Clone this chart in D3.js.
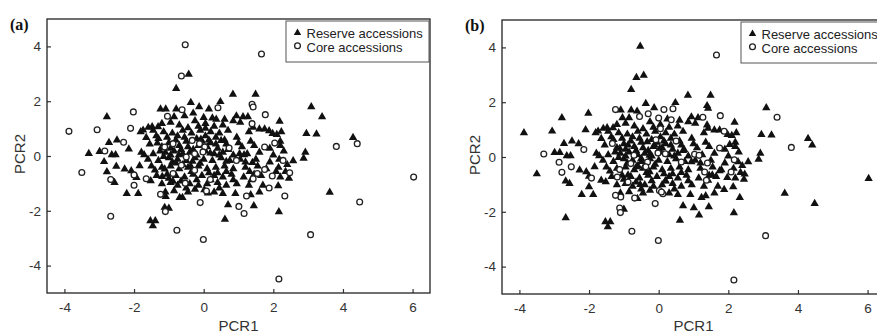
<!DOCTYPE html>
<html>
<head>
<meta charset="utf-8">
<script src="https://cdn.jsdelivr.net/npm/d3@7"></script>
<style>
  html, body { margin: 0; padding: 0; background: #fff; }
  svg { display: block; }
</style>
</head>
<body>
<svg id="chart" width="877" height="334"></svg>
<script>
// ---- Data (PCR1, PCR2) ----
// Accessions that are "reserve" (triangles) in both panels
const sharedReserve = [
  [-0.43,3.0],[-0.79,2.48],[-2.78,1.45],[-2.99,0.18],[-2.72,0.51],[-2.64,0.06],[-2.53,0.06],
  [-2.56,-0.95],[-2.49,0.60],[-2.21,-1.35],[-2.27,-0.46],[-2.08,-0.52],[-1.88,-1.35],[-1.81,0.90],
  [-1.74,0.96],[-1.79,0.15],[-1.71,0.06],[-1.84,-0.34],[-1.59,1.06],[-1.65,0.69],[-1.52,-0.89],
  [-1.53,-2.35],[-1.39,-2.35],[-1.46,-2.53],[-1.48,1.08],[-1.31,1.08],[-1.36,0.75],[-1.09,1.73],
  [-0.79,1.73],[-0.37,1.97],[-0.13,1.81],[0.48,2.0],[0.60,1.36],[0.84,2.27],[1.49,2.27],[0.94,1.48],
  [1.13,1.45],[1.42,1.06],[2.18,1.28],[1.98,0.84],[2.23,0.90],[3.09,1.81],[2.95,0.84],[3.24,0.82],
  [2.92,0.15],[2.87,-0.07],[2.57,-0.16],[4.29,0.69],[3.62,-1.31],[2.16,-2.02],[2.14,-1.07],
  [1.44,-1.80],[0.91,-1.35],[0.70,-1.76],[0.61,-2.29],[-1.00,-1.89],[-0.61,-1.50],
  [-1.2,1.2],[-0.95,1.25],[-0.7,1.15],[-0.25,1.3],[0.05,1.2],[0.3,1.1],[0.55,1.15],[0.85,1.3],[1.05,1.25],
  [-1.45,0.95],[-1.15,0.9],[-0.9,0.85],[-0.6,0.95],[-0.35,0.85],[-0.1,0.95],[0.2,0.9],[0.45,0.85],
  [0.7,0.95],[1.3,0.9],[1.6,1.0],[1.75,1.0],[2.1,0.8],
  [-1.3,0.65],[-1.05,0.7],[-0.8,0.6],[-0.55,0.7],[-0.2,0.65],[0.05,0.75],[0.35,0.7],[0.6,0.6],
  [0.95,0.7],[1.35,0.55],[2.2,0.55],
  [-1.55,0.45],[-1.2,0.35],[-0.95,0.3],[-0.7,0.4],[-0.45,0.35],[-0.15,0.4],[0.1,0.35],[0.4,0.3],
  [0.65,0.45],[1.1,0.35],[1.45,0.4],[1.9,0.3],[2.2,0.4],
  [-1.45,0.1],[-1.1,0.15],[-0.85,0.2],[-0.6,0.1],[-0.4,0.15],[-0.2,0.05],[0.05,0.2],[0.3,0.1],
  [0.55,0.15],[0.85,0.05],[1.25,0.1],[1.6,0.15],[2.0,0.05],[2.3,0.2],
  [-1.3,-0.15],[-1.0,-0.05],[-0.75,-0.1],[-0.5,-0.15],[-0.25,-0.05],[0.0,-0.1],[0.25,-0.15],
  [0.5,-0.05],[0.75,-0.15],[1.05,-0.1],[1.5,-0.1],[1.9,-0.2],[2.4,-0.3],
  [-1.5,-0.35],[-1.2,-0.4],[-0.95,-0.35],[-0.7,-0.45],[-0.45,-0.4],[-0.15,-0.35],[0.1,-0.45],
  [0.35,-0.4],[0.6,-0.35],[0.85,-0.45],[1.2,-0.4],[1.55,-0.35],[1.8,-0.45],[2.15,-0.4],[2.35,-0.55],
  [-1.35,-0.7],[-1.05,-0.65],[-0.8,-0.7],[-0.55,-0.75],[-0.3,-0.65],[-0.05,-0.7],[0.3,-0.7],
  [0.55,-0.75],[0.8,-0.65],[1.15,-0.75],[1.45,-0.65],[1.65,-0.7],[2.2,-0.75],[2.45,-0.8],
  [-1.2,-1.0],[-0.95,-0.95],[-0.75,-1.05],[-0.4,-1.0],[-0.15,-1.05],[0.1,-1.0],[0.4,-0.95],
  [0.65,-1.05],[0.95,-1.0],[1.3,-1.05],[1.7,-1.05],
  [-1.1,-1.3],[-0.85,-1.25],[-0.45,-1.3],[-0.25,-1.2],[0.3,-1.3],[0.55,-1.35],[1.35,-1.4],[1.6,-1.3],
  [-1.0,0.5],[-0.75,0.75],[-0.5,0.55],[-0.3,0.25],[-0.05,0.55],[0.2,0.5],[0.45,0.05],[-0.9,-0.2],
  [-0.6,-0.3],[-0.35,-0.55],[-0.1,-0.25],[0.15,-0.6],[0.4,-0.6],[0.65,-0.55],[-1.0,-0.8],[-0.65,-0.9],
  [-0.2,-0.85],[0.2,-0.85],[-1.15,0.0],[-0.95,0.05],[-0.65,0.25],[0.15,0.6],[0.35,0.45],[-0.45,1.05],
  [-0.15,1.1],[0.25,1.4],[-0.85,1.45],[-0.5,-1.15],[0.45,-1.15],[0.85,-0.85],[1.0,0.5],[1.2,-0.2],
  [0.7,0.25],[-1.4,-0.5],[-1.6,-0.1],[-1.25,0.2]
];
// Core in panel (a) only (reserve in panel b)
const coreAOnly = [
  [-0.53,4.06],[-0.64,2.92],[-2.02,1.61],[-3.87,0.90],[-3.06,0.96],[-2.10,1.01],[-2.30,0.50],
  [-2.84,0.18],[-3.50,-0.60],[-2.67,-0.86],[-2.67,-2.20],[-1.04,1.45],[-0.62,1.69],[4.41,0.45],
  [6.03,-0.77],[4.48,-1.68],[1.01,-1.84],[1.16,-2.10],[1.23,-1.46],[1.88,-1.17],[2.33,-1.46],
  [2.47,-0.61],[2.28,-0.16],[1.97,-0.73],[1.75,-0.49],[2.04,0.47],[1.39,1.89],[1.42,1.79],
  [1.39,1.18],[-0.33,0.57],[0.73,0.29],[0.94,-0.16],[0.19,-0.86],[-0.53,-0.99],[-1.65,-0.83],
  [-2.00,-1.07],[-2.00,-0.69],[-1.12,0.33],[-0.88,0.45],[1.54,-0.64],[1.42,-0.83],
  [-0.12,0.45],[0.03,0.33],[-0.50,-0.04],[-0.64,-0.34],[-0.88,-0.64],[-0.26,0.08],[-0.26,-0.52]
];
// Core in panel (b) only (reserve in panel a)
const coreBOnly = [
  [-3.30,0.11],[-2.86,-0.19],[-2.78,-0.56],[-2.51,-0.36],[-2.15,0.27],[-1.93,-0.77],[-1.24,1.73],
  [-0.55,1.48],[0.0,1.42],[0.15,1.73],[0.36,1.36],[1.27,1.45],[3.40,1.45],[-1.12,-1.86],
  [-0.69,-1.50],[-1.09,-1.46],[1.88,0.94],[1.03,0.10],[1.16,0.06],[1.40,-0.22],[1.32,-0.55],
  [1.37,-0.85],[2.08,-0.55],[2.17,-0.10],[0.65,-0.18],[0.50,0.58],[0.19,0.12],[-0.08,0.63],
  [-0.32,-0.18],[-0.37,-0.36],[-0.71,0.06],[-0.80,-0.24],[-1.12,-0.46],[-1.19,-0.73],
  [-0.88,-0.91],[-1.33,0.49],[0.02,-1.22],[0.12,-1.34],[-0.30,1.58],[0.05,1.03]
];
// Core in both panels
const coreBoth = [
  [1.66,3.72],[3.81,0.35],[3.07,-2.87],[2.16,-4.49],[-0.01,-3.05],[-0.77,-2.71],[-0.10,-1.70],
  [1.75,0.33],[1.77,1.51],[0.41,1.76],[0.08,-1.28],[-1.24,-1.40],[-1.10,-2.03],[-0.02,0.15]
];
const xTicks = [-4, -2, 0, 2, 4, 6];
const yTicks = [-4, -2, 0, 2, 4];
const xDomain = [-4.5, 6.5];
const yDomain = [-5, 5];
const legendLabels = ["Reserve accessions", "Core accessions"];
const xTitle = "PCR1";
const yTitle = "PCR2";

const panels = [
  { label: "(a)", left: 47, top: 19, reserve: sharedReserve.concat(coreBOnly), core: coreAOnly.concat(coreBoth) },
  { label: "(b)", left: 502, top: 20, reserve: sharedReserve.concat(coreAOnly), core: coreBOnly.concat(coreBoth) }
];

const W = 383, H = 274;
const svg = d3.select("#chart");
const font = "'Liberation Sans', Arial, Helvetica, sans-serif";
const tri = d3.symbol().type(d3.symbolTriangle).size(30);
const fmt = d => String(d); // plain hyphen-minus like the reference

panels.forEach(p => {
  const g = svg.append("g").attr("transform", `translate(${p.left},${p.top})`);
  const x = d3.scaleLinear().domain(xDomain).range([0, W]);
  const y = d3.scaleLinear().domain(yDomain).range([H, 0]);

  // axes with inward ticks
  const xa = g.append("g").attr("transform", `translate(0,${H})`)
    .call(d3.axisBottom(x).tickValues(xTicks).tickSizeInner(-4).tickSizeOuter(0).tickPadding(9).tickFormat(fmt));
  const ya = g.append("g")
    .call(d3.axisLeft(y).tickValues(yTicks).tickSizeInner(-4).tickSizeOuter(0).tickPadding(6).tickFormat(fmt));
  [xa, ya].forEach(a => {
    a.select(".domain").remove();
    a.selectAll(".tick line").attr("stroke", "#333").attr("stroke-width", 1.2);
    a.selectAll(".tick text").attr("fill", "#333").style("font-family", font).style("font-size", "13.5px");
  });

  // frame
  g.append("rect").attr("x", 0).attr("y", 0).attr("width", W).attr("height", H)
    .attr("fill", "none").attr("stroke", "#222").attr("stroke-width", 1.3);

  // points
  g.append("g").selectAll("path").data(p.reserve).join("path")
    .attr("d", tri)
    .attr("transform", d => `translate(${x(d[0])},${y(d[1]) + 0.5})`)
    .attr("fill", "#111");
  g.append("g").selectAll("circle").data(p.core).join("circle")
    .attr("cx", d => x(d[0])).attr("cy", d => y(d[1])).attr("r", 2.9)
    .attr("fill", "#fff").attr("stroke", "#222").attr("stroke-width", 1.3);

  // legend
  const lg = g.append("g").attr("transform", `translate(${W - 144},2)`);
  lg.append("rect").attr("x", 0).attr("y", 0).attr("width", 143).attr("height", 41)
    .attr("fill", "#fff").attr("stroke", "#555").attr("stroke-width", 1);
  lg.append("path").attr("d", d3.symbol().type(d3.symbolTriangle).size(24)).attr("transform", "translate(11.5,11.8)").attr("fill", "#111");
  lg.append("circle").attr("cx", 11.5).attr("cy", 24.7).attr("r", 2.9)
    .attr("fill", "#fff").attr("stroke", "#222").attr("stroke-width", 1.3);
  legendLabels.forEach((t, i) => {
    lg.append("text").attr("x", 20.5).attr("y", 17 + i * 13.5).text(t)
      .attr("fill", "#222").style("font-family", font).style("font-size", "13px");
  });

  // titles
  g.append("text").attr("x", W / 2).attr("y", 331 - p.top).attr("text-anchor", "middle").text(xTitle)
    .attr("fill", "#333").style("font-family", font).style("font-size", "15px");
  g.append("text").attr("transform", `translate(-22,${H / 2 - 2}) rotate(-90)`).attr("text-anchor", "middle").text(yTitle)
    .attr("fill", "#333").style("font-family", font).style("font-size", "15px");

  // panel label
  svg.append("text").attr("x", p.left - 37).attr("y", p.top + 11).text(p.label)
    .attr("fill", "#111").style("font-family", "'Liberation Serif', 'Times New Roman', serif")
    .style("font-weight", "bold").style("font-size", "16px");
});
</script>
</body>
</html>
